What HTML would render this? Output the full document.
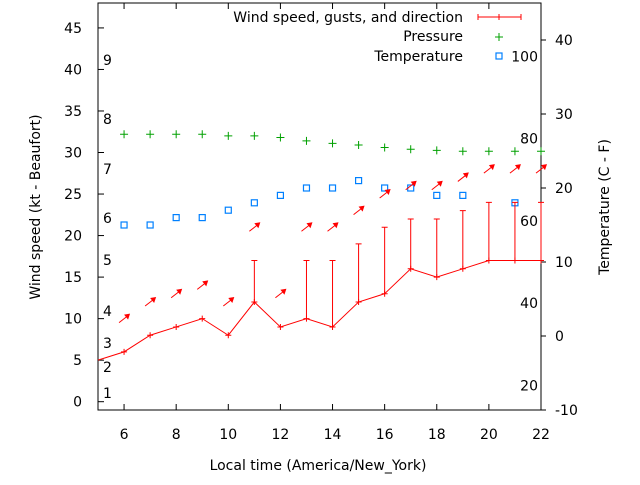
<!DOCTYPE html>
<html><head><meta charset="utf-8"><style>
body{margin:0;background:#fff}
svg text{font-family:"DejaVu Sans","Liberation Sans",sans-serif;font-size:14px;fill:#000}
</style></head><body>
<svg id="c" width="640" height="480" xmlns="http://www.w3.org/2000/svg"></svg>
<script>
const hours=[6,7,8,9,10,11,12,13,14,15,16,17,18,19,20,21,22];
const speed=[6,8,9,10,8,12,9,10,9,12,13,16,15,16,17,17,17];
const gusts=[null,null,null,null,null,17,null,17,17,19,21,22,22,23,24,24,24];
const pressure=[32.2,32.2,32.2,32.2,32.0,32.0,31.8,31.4,31.1,30.9,30.6,30.4,30.25,30.15,30.15,30.15,30.15];
const tempHours=[6,7,8,9,10,11,12,13,14,15,16,17,18,19,21];
const temps=[15,15,16,16,17,18,19,20,20,21,20,20,19,19,18];
const xTicks=[6,8,10,12,14,16,18,20,22];
const yTicks=[0,5,10,15,20,25,30,35,40,45];
const y2Ticks=[-10,0,10,20,30,40];
const fTicks=[20,40,60,80,100];
const beaufort=[[1,393],[2,367],[3,343],[4,311],[5,260],[6,218],[7,169],[8,119],[9,60]];
const L=98,R=541,T=3,B=410;
const X=v=>L+(v-5)/(22-5)*(R-L);
const Y=v=>B-(v+1)/(48+1)*(B-T);
const Y2=v=>B-(v+10)/(45+10)*(B-T);
const YF=f=>Y2((f-32)*5/9);
const s=document.getElementById('c');
const NS='http://www.w3.org/2000/svg';
function el(t,a,p){const e=document.createElementNS(NS,t);for(const k in a)e.setAttribute(k,a[k]);(p||s).appendChild(e);return e;}
function txt(x,y,str,anchor,name){const e=el('text',{x:x,y:y,'text-anchor':anchor||'start'});e.textContent=str;

return e;}
const bd=el('rect',{x:L,y:T,width:R-L,height:B-T,fill:'none',stroke:'#000','stroke-width':1});


xTicks.forEach(v=>{const x=X(v);el('line',{x1:x,y1:B,x2:x,y2:B-6,stroke:'#000'});el('line',{x1:x,y1:T,x2:x,y2:T+6,stroke:'#000'});txt(x,439,String(v),'middle','x-tick-label');});
yTicks.forEach(v=>{const y=Y(v);el('line',{x1:L,y1:y,x2:L+6,y2:y,stroke:'#000'});txt(82,y+5,String(v),'end','y-tick-label');});
y2Ticks.forEach(v=>{const y=Y2(v);el('line',{x1:R,y1:y,x2:R+5,y2:y,stroke:'#000'});txt(555,y+5,String(v),'start','y2-tick-label');});
fTicks.forEach(f=>txt(538,YF(f)+5,String(f),'end','fahrenheit-label'));
beaufort.forEach(b=>txt(103,b[1]+5,String(b[0]),'start','beaufort-label'));
txt(318,470,'Local time (America/New_York)','middle','x-axis-title');
const yt=txt(0,0,'Wind speed (kt - Beaufort)','middle','y-axis-title');yt.setAttribute('transform','translate(40,207) rotate(-90)');
const y2t=txt(0,0,'Temperature (C - F)','middle','y2-axis-title');y2t.setAttribute('transform','translate(609,207) rotate(-90)');
pressure.forEach((p,i)=>{const x=X(hours[i]),y=Y(p);const g=el('path',{d:`M${x-4},${y}h8M${x},${y-4}v8`,stroke:'#00a000','stroke-width':1});

});
temps.forEach((t,i)=>{const r=el('rect',{x:X(tempHours[i])-3,y:Y2(t)-3,width:6,height:6,fill:'none',stroke:'#0080ff','stroke-width':1.2});

});
let d=`M${X(5)},${Y(5)}`;hours.forEach((h,i)=>d+=`L${X(h)},${Y(speed[i])}`);
const wl=el('path',{d:d,fill:'none',stroke:'#f00','stroke-width':1});


hours.forEach((h,i)=>{const x=X(h),y=Y(speed[i]);
const p=el('path',{d:`M${x-3},${y}h6M${x},${y-3}v6`,stroke:'#f00'});


if(gusts[i]!=null){const gy=Y(gusts[i]);const e=el('path',{d:`M${x},${y}V${gy}M${x-3},${gy}h6`,stroke:'#f00'});

}
const ay=Y(Math.max(speed[i],gusts[i]||0)+4);
const a=el('g',{});


el('line',{x1:x-5,y1:ay+4,x2:x+4,y2:ay-3,stroke:'#f00'},a);
el('path',{d:`M${x+6},${ay-5}L${x},${ay-4}L${x+4},${ay+1}Z`,fill:'#f00'},a);
});
txt(463,22,'Wind speed, gusts, and direction','end','legend-wind-label');
const lw=el('path',{d:'M478,17h43M478,14v6M521,14v6M499,14v6',stroke:'#f00'});


txt(463,41,'Pressure','end','legend-pressure-label');
const lp=el('path',{d:'M495,37h8M499,33v8',stroke:'#00a000'});


txt(463,61,'Temperature','end','legend-temperature-label');
const lt=el('rect',{x:496,y:53,width:6,height:6,fill:'none',stroke:'#0080ff','stroke-width':1.2});


</script>
</body></html>
